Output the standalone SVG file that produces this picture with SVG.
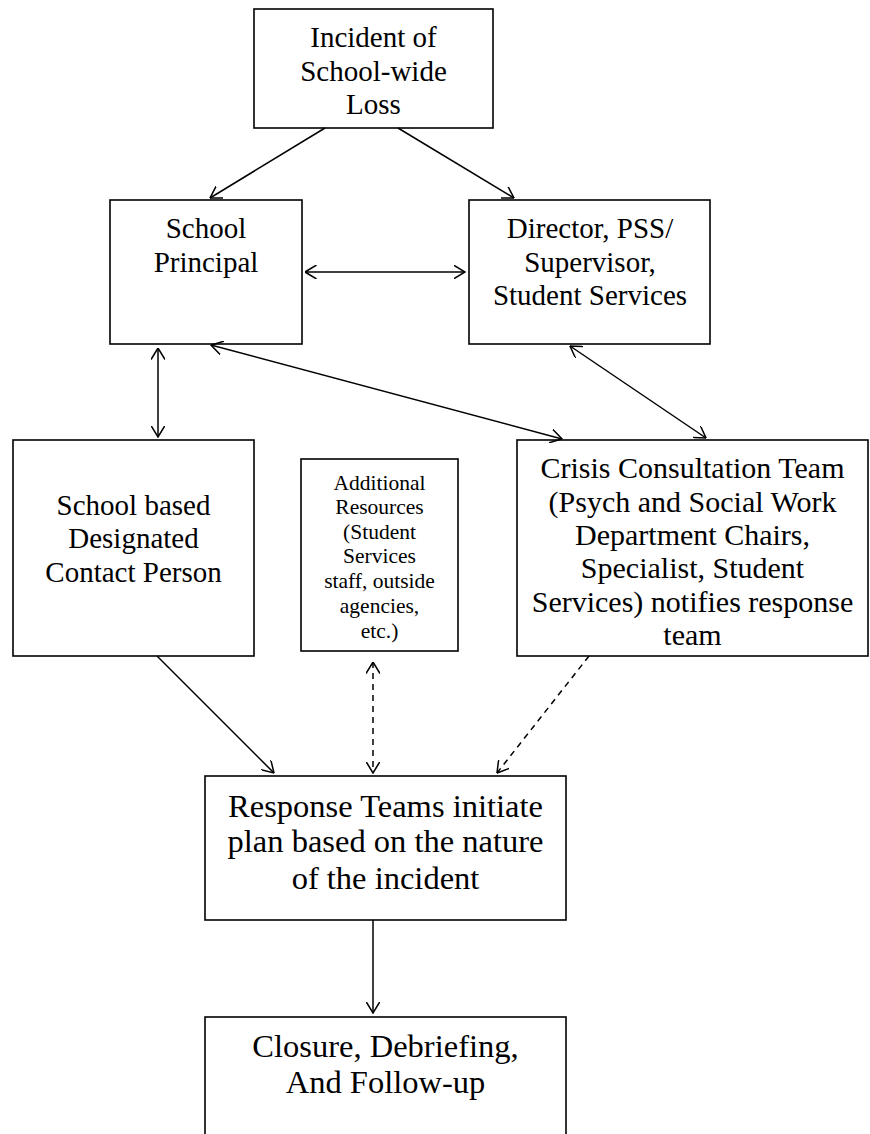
<svg xmlns="http://www.w3.org/2000/svg" width="870" height="1134" viewBox="0 0 870 1134">
<style>
.box{fill:#fff;stroke:#000;stroke-width:1.6}
.t{font-family:"Liberation Serif","Times New Roman",serif;fill:#000;text-anchor:middle}
.t29{font-size:29px}
.t22{font-size:21.5px}
.t31{font-size:30px}
.t32{font-size:32.5px}
.c{fill:none;stroke:#000;stroke-width:1.5}
.d{stroke-dasharray:6,5}
</style>
<defs>
<marker id="ah" viewBox="0 0 12 14" refX="11.5" refY="7" markerWidth="12" markerHeight="14" orient="auto-start-reverse" markerUnits="userSpaceOnUse">
<path d="M0,0 L11.5,7 L0,14" fill="none" stroke="#000" stroke-width="1.5"/>
</marker>
</defs>
<rect width="870" height="1134" fill="#fff"/>
<g id="incident">
<rect class="box" x="254" y="9" width="239" height="119"/>
<text class="t t29" x="373.5" y="47">Incident of</text>
<text class="t t29" x="373.5" y="81">School-wide</text>
<text class="t t29" x="373.5" y="114">Loss</text>
</g>
<g id="principal">
<rect class="box" x="110" y="200" width="192" height="144"/>
<text class="t t29" x="206" y="238">School</text>
<text class="t t29" x="206" y="272">Principal</text>
</g>
<g id="director">
<rect class="box" x="469" y="200" width="241" height="144"/>
<text class="t t29" x="590" y="238">Director, PSS/</text>
<text class="t t29" x="590" y="272">Supervisor,</text>
<text class="t t29" x="590" y="305">Student Services</text>
</g>
<g id="contact">
<rect class="box" x="13" y="440" width="241" height="216"/>
<text class="t t29" x="133.5" y="515">School based</text>
<text class="t t29" x="133.5" y="548">Designated</text>
<text class="t t29" x="133.5" y="582">Contact Person</text>
</g>
<g id="resources">
<rect class="box" x="301" y="459" width="157" height="192"/>
<text class="t t22" x="379.5" y="490">Additional</text>
<text class="t t22" x="379.5" y="514">Resources</text>
<text class="t t22" x="379.5" y="539">(Student</text>
<text class="t t22" x="379.5" y="563">Services</text>
<text class="t t22" x="379.5" y="588">staff, outside</text>
<text class="t t22" x="379.5" y="613">agencies,</text>
<text class="t t22" x="379.5" y="638">etc.)</text>
</g>
<g id="crisis">
<rect class="box" x="517" y="440" width="351" height="216"/>
<text class="t t31" x="692.5" y="478">Crisis Consultation Team</text>
<text class="t t31" x="692.5" y="512">(Psych and Social Work</text>
<text class="t t31" x="692.5" y="545">Department Chairs,</text>
<text class="t t31" x="692.5" y="578">Specialist, Student</text>
<text class="t t31" x="692.5" y="612">Services) notifies response</text>
<text class="t t31" x="692.5" y="645">team</text>
</g>
<g id="response">
<rect class="box" x="205" y="776" width="361" height="144"/>
<text class="t t32" x="385.5" y="817">Response Teams initiate</text>
<text class="t t32" x="385.5" y="852">plan based on the nature</text>
<text class="t t32" x="385.5" y="889">of the incident</text>
</g>
<g id="closure">
<rect class="box" x="205" y="1017" width="361" height="130"/>
<text class="t t32" x="385.5" y="1057">Closure, Debriefing,</text>
<text class="t t32" x="385.5" y="1093">And Follow-up</text>
</g>
<g id="connectors">
<line class="c" x1="325" y1="128" x2="210" y2="198" marker-end="url(#ah)"/>
<line class="c" x1="398" y1="128" x2="514" y2="198" marker-end="url(#ah)"/>
<line class="c" x1="305" y1="272" x2="465" y2="272" marker-start="url(#ah)" marker-end="url(#ah)"/>
<line class="c" x1="158" y1="348" x2="158" y2="437" marker-start="url(#ah)" marker-end="url(#ah)"/>
<line class="c" x1="211" y1="345" x2="562" y2="439" marker-start="url(#ah)" marker-end="url(#ah)"/>
<line class="c" x1="570" y1="346" x2="706" y2="438" marker-start="url(#ah)" marker-end="url(#ah)"/>
<line class="c" x1="157" y1="656" x2="274" y2="773" marker-end="url(#ah)"/>
<line class="c d" x1="373" y1="662" x2="373" y2="773" marker-start="url(#ah)" marker-end="url(#ah)"/>
<line class="c d" x1="589" y1="656" x2="497" y2="773" marker-end="url(#ah)"/>
<line class="c" x1="373" y1="920" x2="373" y2="1013" marker-end="url(#ah)"/>
</g>
</svg>
